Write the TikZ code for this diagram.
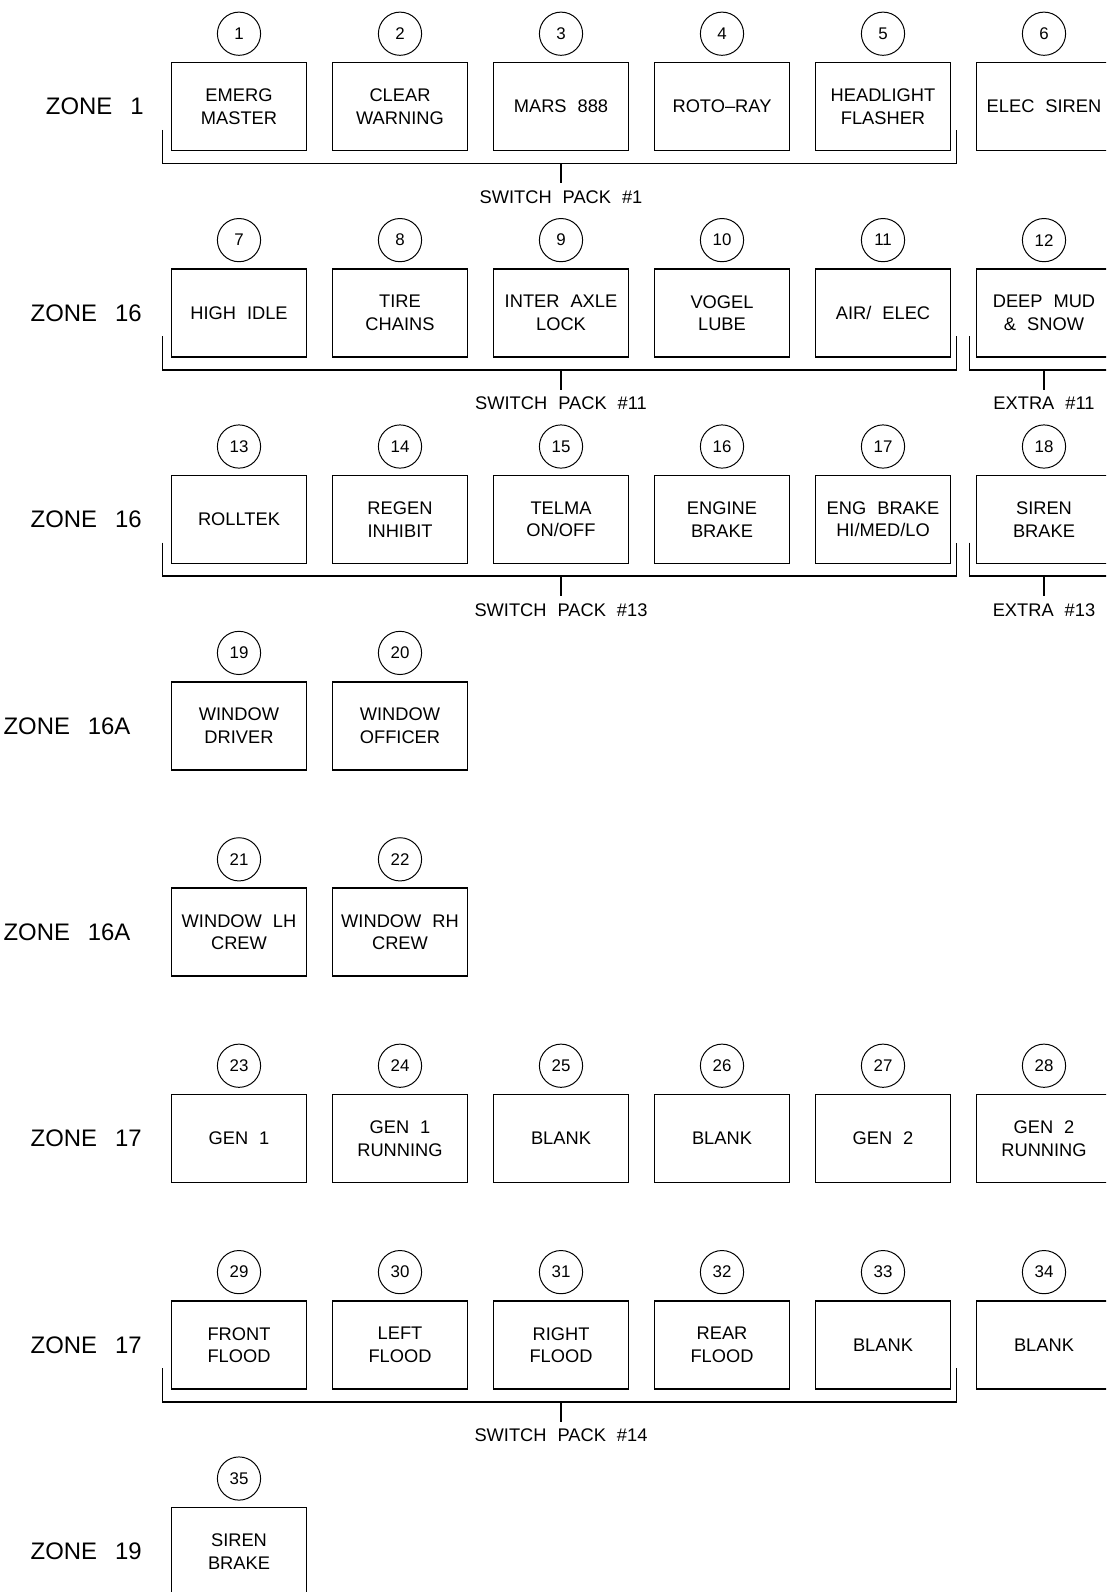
\documentclass[tikz,border=0pt]{standalone}
\usepackage{fontspec}
\setmainfont{Liberation Sans}
\usetikzlibrary{positioning}

\protected\def\widegap{\spaceskip=0.6em\relax}
\protected\def\widergap{\spaceskip=0.75em\relax}

\begin{document}
\begin{tikzpicture}[x=0.025cm, y=-0.025cm,
  switchbox/.style={draw, line width=1.1pt, minimum width=3.375cm, minimum height=2.2cm,
    inner sep=0pt, align=center, font=\fontsize{13}{16}\selectfont\widegap},
  numcircle/.style={draw, circle, line width=0.7pt, minimum size=1.08cm, inner sep=0pt,
    font=\fontsize{12}{14}\selectfont},
  zonelabel/.style={inner sep=0pt, font=\fontsize{17}{20}\selectfont\widergap},
  packlabel/.style={inner sep=0pt, font=\fontsize{13}{16}\selectfont\widegap},
  bracket/.style={line width=1.1pt}]

\path[use as bounding box, clip] (0,0) rectangle (1106,1592);

% Zone 1
\node[switchbox] (s1) at (239,106.6) {EMERG\\MASTER};
\node[switchbox] (s2) at (400,106.6) {CLEAR\\WARNING};
\node[switchbox] (s3) at (561,106.6) {MARS 888};
\node[switchbox] (s4) at (722,106.6) {ROTO--RAY};
\node[switchbox] (s5) at (883,106.6) {HEADLIGHT\\FLASHER};
\node[switchbox] (s6) at (1044,106.6) {ELEC SIREN};
\node[zonelabel, left=0.67cm of s1] (z1) {ZONE 1};

% Zone 16
\node[switchbox] (s7) at (239,313) {HIGH IDLE};
\node[switchbox] (s8) at (400,313) {TIRE\\CHAINS};
\node[switchbox] (s9) at (561,313) {INTER AXLE\\LOCK};
\node[switchbox] (s10) at (722,313) {VOGEL\\LUBE};
\node[switchbox] (s11) at (883,313) {AIR/ ELEC};
\node[switchbox] (s12) at (1044,313) {DEEP MUD\\\& SNOW};
\node[zonelabel, left=0.72cm of s7] (z2) {ZONE 16};

% Zone 16
\node[switchbox] (s13) at (239,519.4) {ROLLTEK};
\node[switchbox] (s14) at (400,519.4) {REGEN\\INHIBIT};
\node[switchbox] (s15) at (561,519.4) {TELMA\\ON/OFF};
\node[switchbox] (s16) at (722,519.4) {ENGINE\\BRAKE};
\node[switchbox] (s17) at (883,519.4) {ENG BRAKE\\HI/MED/LO};
\node[switchbox] (s18) at (1044,519.4) {SIREN\\BRAKE};
\node[zonelabel, left=0.72cm of s13] (z3) {ZONE 16};

% Zone 16A
\node[switchbox] (s19) at (239,725.8) {WINDOW\\DRIVER};
\node[switchbox] (s20) at (400,725.8) {WINDOW\\OFFICER};
\node[zonelabel, left=1cm of s19] (z4) {ZONE 16A};

% Zone 16A
\node[switchbox] (s21) at (239,932.2) {WINDOW LH\\CREW};
\node[switchbox] (s22) at (400,932.2) {WINDOW RH\\CREW};
\node[zonelabel, left=1cm of s21] (z5) {ZONE 16A};

% Zone 17
\node[switchbox] (s23) at (239,1138.6) {GEN 1};
\node[switchbox] (s24) at (400,1138.6) {GEN 1\\RUNNING};
\node[switchbox] (s25) at (561,1138.6) {BLANK};
\node[switchbox] (s26) at (722,1138.6) {BLANK};
\node[switchbox] (s27) at (883,1138.6) {GEN 2};
\node[switchbox] (s28) at (1044,1138.6) {GEN 2\\RUNNING};
\node[zonelabel, left=0.72cm of s23] (z6) {ZONE 17};

% Zone 17
\node[switchbox] (s29) at (239,1345) {FRONT\\FLOOD};
\node[switchbox] (s30) at (400,1345) {LEFT\\FLOOD};
\node[switchbox] (s31) at (561,1345) {RIGHT\\FLOOD};
\node[switchbox] (s32) at (722,1345) {REAR\\FLOOD};
\node[switchbox] (s33) at (883,1345) {BLANK};
\node[switchbox] (s34) at (1044,1345) {BLANK};
\node[zonelabel, left=0.72cm of s29] (z7) {ZONE 17};

% Zone 19
\node[switchbox] (s35) at (239,1551.4) {SIREN\\BRAKE};
\node[zonelabel, left=0.72cm of s35] (z8) {ZONE 19};

% Numeros des interrupteurs
\foreach \n in {1,...,35} {
    \node[numcircle, above=0.15cm of s\n] (c\n) {\n};
}

% Switch packs
\foreach \a/\b/\m/\t in {s1/s5/s3/1, s7/s11/s9/11, s13/s17/s15/13, s29/s33/s31/14} {
    \draw[bracket] ([xshift=-0.2cm, yshift=0.54cm]\a.south west) |- ([xshift=0.13cm, yshift=-0.3cm]\b.south east)
        -- ([xshift=0.13cm, yshift=0.54cm]\b.south east);
    \draw[bracket] ([yshift=-0.3cm]\m.south) -- ([yshift=-0.8cm]\m.south)
        node[packlabel, below=0.16cm] (pack\t) {SWITCH PACK \#\t};
}

% Extras
\foreach \e/\t in {s12/11, s18/13} {
    \draw[bracket] ([xshift=-0.16cm, yshift=0.54cm]\e.south west) |- ([xshift=1cm, yshift=-0.3cm]\e.south east);
    \draw[bracket] ([yshift=-0.3cm]\e.south) -- ([yshift=-0.8cm]\e.south)
        node[packlabel, below=0.16cm] (extra\t) {EXTRA \#\t};
}

\end{tikzpicture}
\end{document}
